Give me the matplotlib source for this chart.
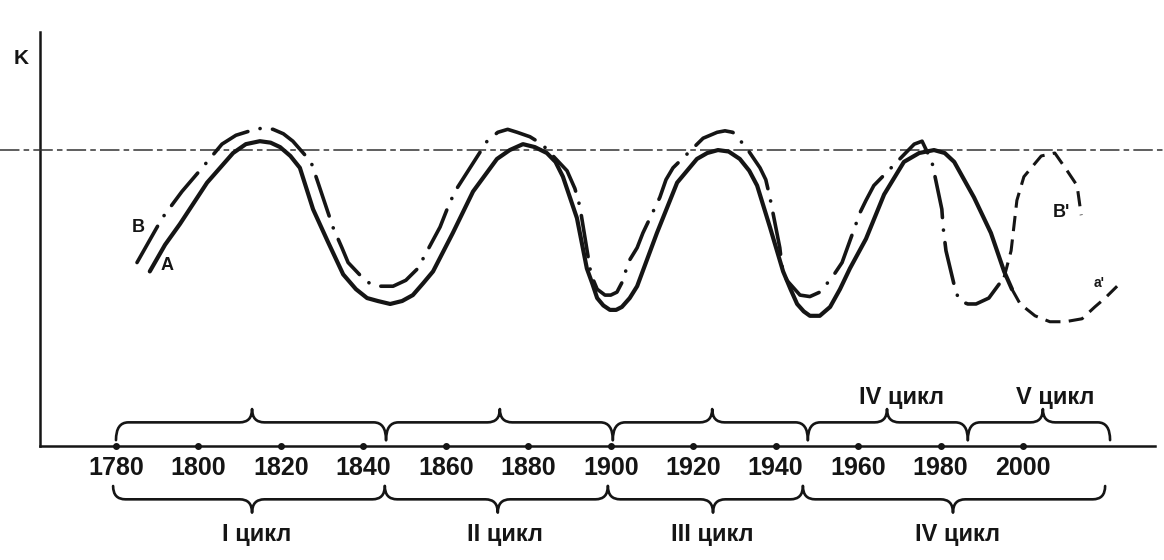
import matplotlib
matplotlib.use("Agg")
import matplotlib.pyplot as plt
from matplotlib.path import Path
from matplotlib.patches import PathPatch

# ---------------------------------------------------------------------------
# Data (K index, equilibrium level = 1.0)
# ---------------------------------------------------------------------------

# curve A (solid line)
A_YEARS = [1788.2, 1791.9, 1795.5, 1802.1, 1808.4, 1811.5, 1814.9, 1817.5,
           1819.8, 1822.3, 1824.6, 1827.8, 1831.4, 1835.1, 1838.2, 1840.9,
           1843.5, 1846.5, 1849.4, 1852.0, 1854.5, 1856.9, 1861.7, 1866.6,
           1872.4, 1875.5, 1878.7, 1881.6, 1884.5, 1886.6, 1888.4, 1891.8,
           1894.2, 1895.5, 1896.7, 1898.2, 1899.8, 1901.3, 1902.7, 1904.6,
           1906.4, 1911.2, 1916.1, 1920.9, 1923.4, 1926.0, 1928.6, 1931.3,
           1933.6, 1935.5, 1938.6, 1941.8, 1943.6, 1945.2, 1946.8, 1948.3,
           1950.7, 1953.2, 1955.6, 1958.0, 1961.9, 1966.3, 1971.1, 1974.8,
           1978.4, 1981.0, 1983.3, 1988.1, 1992.2, 1995.4, 1997.3]
A_K = [0.59, 0.68, 0.75, 0.89, 0.99, 1.02, 1.03, 1.025,
       1.01, 0.98, 0.94, 0.80, 0.69, 0.58, 0.53, 0.50,
       0.49, 0.48, 0.49, 0.51, 0.55, 0.59, 0.72, 0.86,
       0.97, 1.00, 1.02, 1.01, 0.99, 0.96, 0.91, 0.77,
       0.60, 0.55, 0.50, 0.475, 0.46, 0.46, 0.47, 0.50,
       0.54, 0.72, 0.89, 0.97, 0.99, 1.00, 0.995, 0.97,
       0.93, 0.88, 0.74, 0.59, 0.53, 0.48, 0.455, 0.44,
       0.44, 0.47, 0.53, 0.60, 0.70, 0.85, 0.96, 0.99,
       1.00, 0.99, 0.96, 0.84, 0.72, 0.59, 0.53]

# curve B (dash-dot line)
B_YEARS = [1785.1, 1791.2, 1796.0, 1800.9, 1805.7, 1809.1, 1813.7, 1816.0,
           1818.1, 1820.6, 1822.9, 1827.3, 1829.0, 1832.6, 1834.8, 1836.3,
           1839.7, 1841.5, 1843.5, 1847.2, 1850.3, 1853.2, 1858.6, 1860.3,
           1862.2, 1870.0, 1872.6, 1875.0, 1877.3, 1880.4, 1883.3, 1889.4,
           1891.3, 1892.5, 1894.5, 1895.2, 1896.7, 1898.6, 1900.0, 1901.5,
           1903.0, 1904.2, 1906.4, 1907.8, 1911.9, 1913.4, 1915.1, 1922.4,
           1925.8, 1927.7, 1929.6, 1932.8, 1936.2, 1937.6, 1938.6, 1941.0,
           1941.5, 1942.7, 1945.9, 1948.3, 1950.7, 1953.7, 1956.1, 1960.5,
           1961.9, 1963.8, 1968.7, 1973.6, 1975.5, 1977.9, 1980.3, 1980.6,
           1981.3, 1983.7, 1984.7, 1986.6, 1988.6, 1991.7, 1995.4]
B_K = [0.62, 0.77, 0.86, 0.94, 1.02, 1.05, 1.07, 1.075,
       1.07, 1.055, 1.03, 0.96, 0.89, 0.74, 0.67, 0.62,
       0.57, 0.55, 0.54, 0.54, 0.56, 0.60, 0.74, 0.80,
       0.86, 1.03, 1.06, 1.07, 1.06, 1.045, 1.02, 0.93,
       0.87, 0.81, 0.64, 0.58, 0.53, 0.51, 0.51, 0.52,
       0.56, 0.62, 0.67, 0.72, 0.84, 0.90, 0.94, 1.04,
       1.06, 1.065, 1.06, 1.01, 0.94, 0.90, 0.84, 0.67,
       0.61, 0.56, 0.51, 0.505, 0.52, 0.57, 0.62, 0.79,
       0.83, 0.88, 0.95, 1.02, 1.03, 0.96, 0.80, 0.74,
       0.66, 0.52, 0.49, 0.48, 0.48, 0.50, 0.57]

# forecast branches (dashed), listed in drawing order
B2_YEARS = [1995.4, 1997.1, 1998.5, 2000.2, 2004.4, 2007.7, 2010.7, 2013.1, 2014.1]
B2_K = [0.57, 0.66, 0.83, 0.91, 0.98, 0.99, 0.93, 0.88, 0.78]
A2_YEARS = [1997.3, 1999.3, 2002.9, 2006.5, 2010.2, 2014.3, 2017.4, 2019.9, 2022.8]
A2_K = [0.53, 0.48, 0.44, 0.42, 0.42, 0.43, 0.47, 0.50, 0.54]

TICK_YEARS = [1780, 1800, 1820, 1840, 1860, 1880, 1900, 1920, 1940, 1960, 1980, 2000]
TICK_LABELS = ["1780", "1800", "1820", "1840", "1860", "1880", "1900",
               "1920", "1940", "1960", "1980", "2000"]

# braces: (start, end, tip) in years
UPPER_BRACES = [(1780.0, 1845.5, 1813.0), (1845.5, 1900.5, 1873.1),
                (1900.5, 1947.8, 1924.6), (1947.8, 1986.6, 1967.0),
                (1986.6, 2021.1, 2004.8)]
LOWER_BRACES = [(1779.3, 1845.2, 1813.0), (1845.2, 1899.3, 1872.6),
                (1899.3, 1946.6, 1924.8), (1946.6, 2019.9, 1983.0)]

UPPER_CYCLES = ["IV цикл", "V цикл"]
UPPER_CYCLE_YEARS = [1970.4, 2007.8]
LOWER_CYCLES = ["I цикл", "II цикл", "III цикл", "IV цикл"]
LOWER_CYCLE_YEARS = [1814.2, 1874.3, 1924.6, 1984.0]

EQUILIBRIUM_K = 1.0
AXIS_START = 1761.6
AXIS_END = 2032.0
AXIS_TOP = 1.40

# ---------------------------------------------------------------------------

plt.rcParams["lines.scale_dashes"] = False
NUM_FONT = ["Liberation Sans Narrow", "Liberation Sans", "DejaVu Sans"]
TXT_FONT = ["Liberation Sans", "DejaVu Sans"]
INK = "#151515"


def brace(ax, x0, x1, xm, y, hook, tip, r=3.0):
    """Hand-drawn style curly brace along the time axis."""
    verts = [(x0, y + hook), (x0, y), (x0 + r, y),
             (xm - r, y), (xm, y), (xm, y + tip),
             (xm, y), (xm + r, y),
             (x1 - r, y), (x1, y), (x1, y + hook)]
    codes = [Path.MOVETO, Path.CURVE3, Path.CURVE3,
             Path.LINETO, Path.CURVE3, Path.CURVE3,
             Path.CURVE3, Path.CURVE3,
             Path.LINETO, Path.CURVE3, Path.CURVE3]
    ax.add_patch(PathPatch(Path(verts, codes), fill=False, lw=1.9,
                           edgecolor=INK, capstyle="round", joinstyle="round"))


fig = plt.figure(figsize=(11.64, 5.6), dpi=100)
ax = fig.add_axes([0, 0, 1, 1])
ax.set_xlim(1751.87, 2034.18)
ax.set_ylim(-0.385, 1.507)
ax.axis("off")

# axes of the diagram
ax.plot([AXIS_START, AXIS_START], [0, AXIS_TOP], color=INK, lw=1.8)
ax.plot([AXIS_START, AXIS_END], [0, 0], color=INK, lw=1.8)
ax.axhline(EQUILIBRIUM_K, color="#333333", lw=1.1, linestyle=(0, (14, 3, 4, 3)))
ax.plot(TICK_YEARS, [0] * len(TICK_YEARS), "o", color=INK, ms=4)
ax.text(1757.0, 1.31, "K", fontsize=15, family=TXT_FONT, weight="bold",
        color=INK, ha="center", va="center")

for yr, lab in zip(TICK_YEARS, TICK_LABELS):
    ax.text(yr, -0.074, lab, fontsize=18, family=NUM_FONT, weight="bold",
            color=INK, ha="center", va="center")

# waves
ax.plot(A_YEARS, A_K, color=INK, lw=3.0, solid_capstyle="round",
        solid_joinstyle="round")
ax.plot(B_YEARS, B_K, color=INK, lw=2.6, linestyle=(0, (30, 9, 0.1, 9)),
        dash_capstyle="round", dash_joinstyle="round")
ax.plot(B2_YEARS, B2_K, color=INK, lw=2.2, linestyle=(0, (11, 6)))
ax.plot(A2_YEARS, A2_K, color=INK, lw=2.2, linestyle=(0, (11, 6)))

ax.text(1785.3, 0.74, "B", fontsize=13, family=TXT_FONT, weight="bold",
        color=INK, ha="center", va="center")
ax.text(1792.4, 0.61, "A", fontsize=13, family=TXT_FONT, weight="bold",
        color=INK, ha="center", va="center")
ax.text(2009.4, 0.79, "B'", fontsize=13, family=TXT_FONT, weight="bold",
        color=INK, ha="center", va="center")
ax.text(2018.4, 0.55, "a'", fontsize=10, family=TXT_FONT, weight="bold",
        color=INK, ha="center", va="center")

# cycle braces
for x0, x1, xm in UPPER_BRACES:
    brace(ax, x0, x1, xm, 0.08, -0.06, 0.045)
for x0, x1, xm in LOWER_BRACES:
    brace(ax, x0, x1, xm, -0.18, 0.045, -0.045)

for yr, lab in zip(UPPER_CYCLE_YEARS, UPPER_CYCLES):
    ax.text(yr, 0.165, lab, fontsize=17, family=TXT_FONT, weight="bold",
            color=INK, ha="center", va="center")
for yr, lab in zip(LOWER_CYCLE_YEARS, LOWER_CYCLES):
    ax.text(yr, -0.30, lab, fontsize=17, family=TXT_FONT, weight="bold",
            color=INK, ha="center", va="center")

fig.savefig("out.png", dpi=100, facecolor="white")
